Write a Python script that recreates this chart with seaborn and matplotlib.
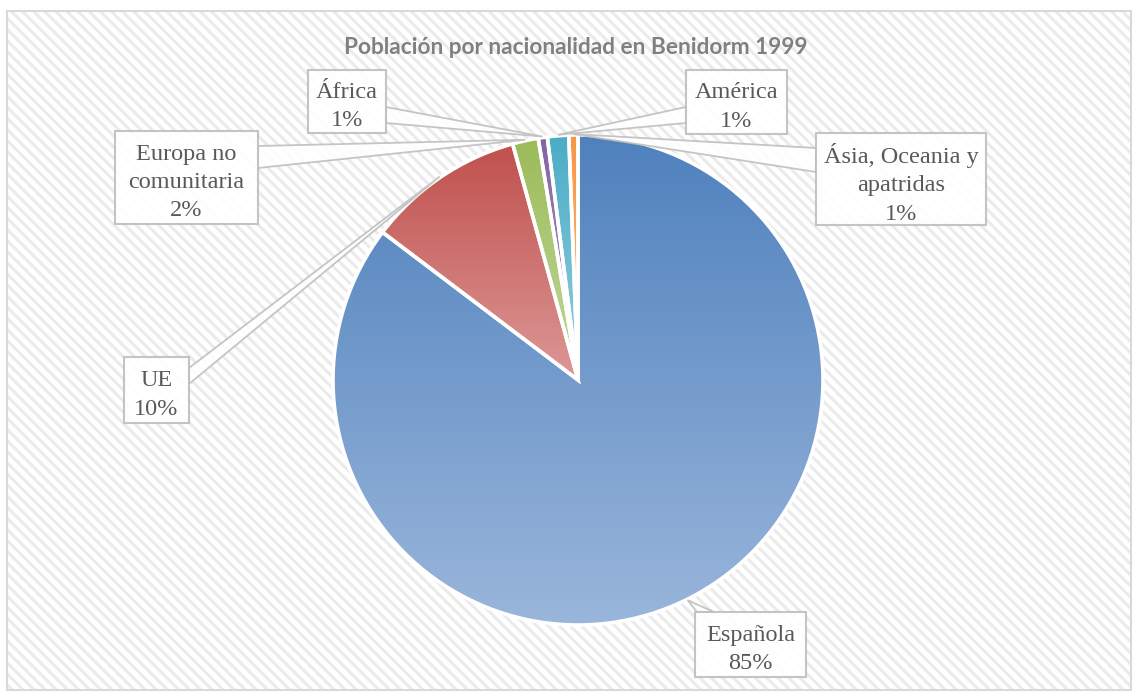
"""Pie chart: Población por nacionalidad en Benidorm 1999."""

import matplotlib.pyplot as plt
import numpy as np
import seaborn as sns
from matplotlib.colors import to_rgb
from matplotlib.patches import Polygon, Rectangle

sns.set_theme(style="white")

# data
categories = ["Española", "UE", "Europa no\ncomunitaria", "África", "América",
              "Ásia, Oceania y\napatridas"]
shares = [85.3, 10.4, 1.7, 0.6, 1.4, 0.6]
top_colors = ["#4f81bd", "#c0504d", "#9bbb59", "#8064a2", "#4bacc6", "#f79646"]
bottom_colors = ["#9ab6db", "#dc9896", "#c4d89e", "#b2a1c9", "#93cfe0", "#fac08f"]
title = "Población por nacionalidad en Benidorm 1999"

# layout in pixels (y measured from top of the image)
W, H = 1135, 693
center_px = (578, 380)
radius = 245
# label boxes: x0, y0(top), x1, y1(bottom)
boxes = [
    (695, 612, 806, 677),
    (124, 357, 189, 423),
    (115, 131, 258, 224),
    (308, 70, 386, 133),
    (686, 70, 787, 134),
    (816, 133, 986, 225),
]
# the two points where each callout leaves its box
callout_bases = [
    ((697, 612), (714, 612)),
    ((189, 368), (189, 384)),
    ((258, 146), (258, 168)),
    ((386, 107), (386, 123)),
    ((686, 107), (686, 123)),
    ((816, 148), (816, 172)),
]


def fy(y):
    return H - y


fig = plt.figure(figsize=(W / 100, H / 100), dpi=100)
ax = fig.add_axes([0, 0, 1, 1])

cx, cy = center_px[0], fy(center_px[1])
wedges, _ = ax.pie(
    shares,
    colors=top_colors,
    startangle=90,
    counterclock=False,
    center=(cx, cy),
    radius=radius,
    wedgeprops=dict(edgecolor="white", linewidth=2.6),
)
ax.set_xlim(0, W)
ax.set_ylim(0, H)
ax.set_aspect("equal")
ax.axis("off")

# hatched chart area
plt.rcParams["hatch.linewidth"] = 2.2
plt.rcParams["hatch.color"] = "#ebebeb"
bg = Rectangle((7, fy(690)), 1124, 679, facecolor="white", edgecolor="#ebebeb",
               hatch="\\\\\\", linewidth=0, zorder=-5)
ax.add_patch(bg)
ax.add_patch(Rectangle((7, fy(690)), 1124, 679, facecolor="none",
                       edgecolor="#d9d9d9", linewidth=1.5, zorder=-4))

# vertical gradient inside every slice
for wedge, c0, c1 in zip(wedges, top_colors, bottom_colors):
    verts = wedge.get_path().vertices
    verts = wedge.get_patch_transform().transform(verts)
    x0, x1 = verts[:, 0].min(), verts[:, 0].max()
    y0, y1 = verts[:, 1].min(), verts[:, 1].max()
    t = np.linspace(0, 1, 256)[:, None]
    grad = (1 - t) * np.array(to_rgb(c0)) + t * np.array(to_rgb(c1))
    img = ax.imshow(grad[:, None, :].repeat(2, axis=1), extent=(x0, x1, y0, y1),
                    origin="upper", aspect="auto", zorder=1, interpolation="bilinear")
    img.set_clip_path(wedge)
    wedge.set_facecolor("none")
    wedge.set_zorder(2)
ax.set_xlim(0, W)
ax.set_ylim(0, H)

# callouts and labels
for wedge, name, share, box, base in zip(wedges, categories, shares, boxes, callout_bases):
    mid = np.deg2rad((wedge.theta1 + wedge.theta2) / 2)
    tip = (cx + (radius + 1) * np.cos(mid), cy + (radius + 1) * np.sin(mid))
    (bx0, by0), (bx1, by1) = base
    ax.add_patch(Polygon([(bx0, fy(by0)), tip, (bx1, fy(by1))], closed=True,
                         facecolor="white", edgecolor="#bfbfbf", linewidth=1.3,
                         zorder=3, alpha=0.9))
    x0, y0, x1, y1 = box
    ax.add_patch(Rectangle((x0, fy(y1)), x1 - x0, y1 - y0, facecolor="white",
                           edgecolor="#bfbfbf", linewidth=1.5, zorder=4, alpha=0.92))
    ax.text((x0 + x1) / 2, fy((y0 + y1) / 2) - 5, f"{name}\n{share:.0f}%",
            ha="center", va="center", multialignment="center",
            family="Liberation Serif", fontsize=17.5, color="#595959",
            linespacing=1.45, zorder=5)

ax.text(576, fy(47), title, ha="center", va="center", family="Lato",
        fontweight="bold", fontsize=16.3, color="#808080", zorder=5)

fig.savefig("out.png", dpi=100)
